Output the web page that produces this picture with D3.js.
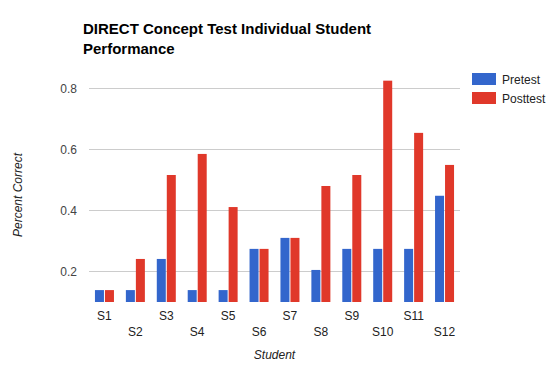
<!DOCTYPE html>
<html><head><meta charset="utf-8">
<script src="https://cdn.jsdelivr.net/npm/d3@7"></script>
<style>body{margin:0;background:#fff}svg{display:block;font-family:Arial,"Liberation Sans",sans-serif}</style>
</head><body><svg id="c" width="560" height="383"></svg>
<script>
const students = ["S1","S2","S3","S4","S5","S6","S7","S8","S9","S10","S11","S12"];
const pretest  = [0.139,0.139,0.241,0.139,0.139,0.274,0.31,0.205,0.274,0.274,0.274,0.448];
const posttest = [0.139,0.241,0.516,0.585,0.411,0.274,0.31,0.48,0.516,0.825,0.654,0.549];
const seriesNames = ["Pretest","Posttest"];
const colors = ["#3366cc","#e0382a"];
const yTicks = [0.2,0.4,0.6,0.8];

const svg = d3.select("#c");
const L = 89, R = 460, B = 302;
const y = d3.scaleLinear().domain([0.1, 0.8]).range([B, 88.3]);
const x0 = d3.scaleBand().domain(students).range([L, R]).paddingInner(0).paddingOuter(0);
const x1 = d3.scaleBand().domain(seriesNames).range([x0.bandwidth()/2 - 9.5, x0.bandwidth()/2 + 9.5]).paddingInner(0.1);

// gridlines
svg.append("g").selectAll("line").data(yTicks).join("line")
  .attr("x1", L).attr("x2", R)
  .attr("y1", d => Math.round(y(d)) + 0.5).attr("y2", d => Math.round(y(d)) + 0.5)
  .attr("stroke", "#cccccc").attr("stroke-width", 1);

// y tick labels
svg.append("g").selectAll("text").data(yTicks).join("text")
  .attr("x", 77).attr("y", d => y(d) + 4.5)
  .attr("text-anchor", "end").attr("font-size", 12).attr("fill", "#444")
  .text(d => d3.format(".1f")(d));

// bars
const data = students.map((s, i) => ({s, vals: [pretest[i], posttest[i]]}));
const g = svg.append("g").selectAll("g").data(data).join("g")
  .attr("transform", d => `translate(${x0(d.s)},0)`);
g.selectAll("rect").data(d => d.vals.map((v, j) => ({v, j}))).join("rect")
  .attr("x", d => x1(seriesNames[d.j]))
  .attr("width", x1.bandwidth())
  .attr("y", d => y(d.v))
  .attr("height", d => B - y(d.v))
  .attr("fill", d => colors[d.j]);

// x labels (staggered)
svg.append("g").selectAll("text").data(students).join("text")
  .attr("x", d => x0(d) + x0.bandwidth()/2)
  .attr("y", (d, i) => i % 2 === 0 ? 319.5 : 335.5)
  .attr("text-anchor", "middle").attr("font-size", 12).attr("fill", "#222")
  .text(d => d);

// axis titles
svg.append("text").attr("x", (L + R)/2).attr("y", 358.5)
  .attr("text-anchor", "middle").attr("font-size", 12).attr("font-style", "italic").attr("fill", "#222")
  .text("Student");
svg.append("text").attr("transform", `translate(22,${(B + 88)/2}) rotate(-90)`)
  .attr("text-anchor", "middle").attr("font-size", 12).attr("font-style", "italic").attr("fill", "#222")
  .text("Percent Correct");

// title
const title = svg.append("text").attr("x", 83).attr("font-size", 15).attr("font-weight", "bold").attr("fill", "#000");
title.append("tspan").attr("x", 83).attr("y", 34).text("DIRECT Concept Test Individual Student");
title.append("tspan").attr("x", 83).attr("y", 54).text("Performance");

// legend
const lg = svg.append("g").selectAll("g").data(seriesNames).join("g")
  .attr("transform", (d, i) => `translate(472,${73 + i * 19})`);
lg.append("rect").attr("width", 24).attr("height", 12).attr("fill", (d, i) => colors[i]);
lg.append("text").attr("x", 30).attr("y", 10.5).attr("font-size", 12).attr("fill", "#222").text(d => d);
</script></body></html>
